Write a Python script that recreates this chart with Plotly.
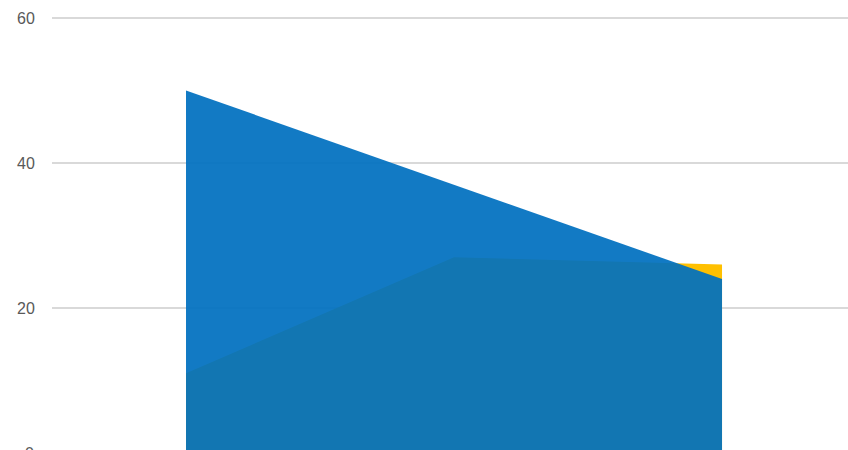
import plotly.graph_objects as go

categories = [0, 1, 2]
series_gold = [11, 27, 26]
series_blue = [50, 37, 24]
y_ticks = [0, 20, 40, 60]

fig = go.Figure()
fig.add_trace(go.Scatter(x=categories, y=series_gold, mode="lines", fill="tozeroy",
                         line=dict(width=0, color="#FFC000"), fillcolor="#FFC000",
                         hoverinfo="skip", showlegend=False))
fig.add_trace(go.Scatter(x=categories, y=series_blue, mode="lines", fill="tozeroy",
                         line=dict(width=0, color="rgba(0,112,192,0.93)"),
                         fillcolor="rgba(0,112,192,0.93)",
                         hoverinfo="skip", showlegend=False))

fig.update_layout(
    width=848, height=450,
    margin=dict(l=52, r=0, t=16, b=0),
    paper_bgcolor="white", plot_bgcolor="white",
    font=dict(family="Liberation Sans, Arial", size=16, color="#595959"),
    xaxis=dict(range=[-0.5, 2.47], showgrid=False, zeroline=False,
               showticklabels=False, ticks="", showline=False),
    yaxis=dict(range=[0.414, 60.276], tickvals=y_ticks, showgrid=True,
               gridcolor="#D9D9D9", gridwidth=2, zeroline=False,
               ticks="outside", ticklen=13, tickcolor="rgba(0,0,0,0)",
               showline=False),
)
# "0" tick label sits just below the visible area and is cut by the edge
fig.add_annotation(text="0", xref="paper", yref="paper", x=0, y=-3/434,
                   xanchor="right", yanchor="middle", xshift=-16, showarrow=False,
                   font=dict(family="Liberation Sans, Arial", size=16, color="#595959"))

fig.write_html("out.html", config={"displayModeBar": False},
               post_script="document.body.style.margin='0';"
                           "document.documentElement.style.overflow='hidden';"
                           "document.body.style.overflow='hidden';")
